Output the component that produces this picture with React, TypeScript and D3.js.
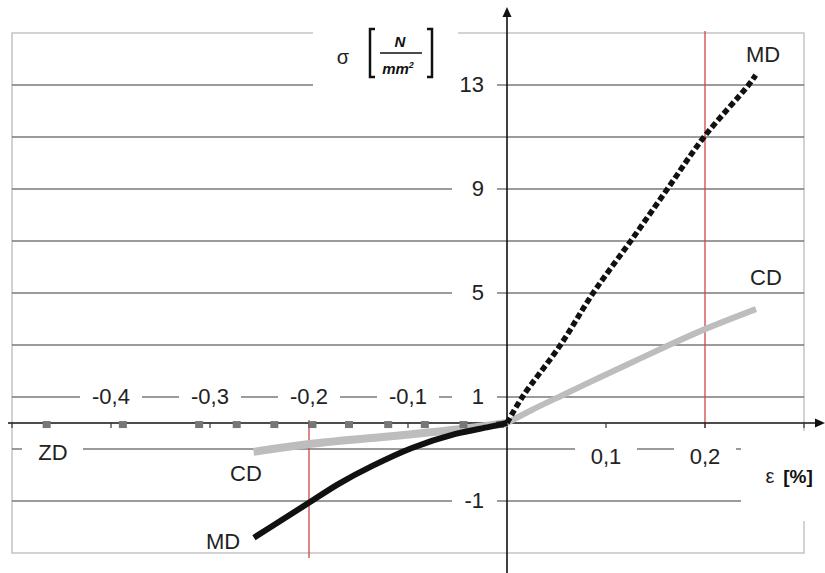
import React, { useRef, useEffect } from 'react';
import * as d3 from 'd3';

// strain [%] / stress [N/mm2]
const mdTensionX = [0, 0.0155, 0.054, 0.087, 0.125, 0.162, 0.199, 0.244, 0.2512];
const mdTensionY = [0, 1, 3, 5, 7, 9, 11, 13, 13.38];
const cdTensionX = [0, 0.025, 0.056, 0.093, 0.126, 0.16, 0.2, 0.2515];
const cdTensionY = [0, 0.5, 1.07, 1.74, 2.33, 2.93, 3.61, 4.38];
const mdCompX = [0, -0.018, -0.052, -0.096, -0.136, -0.17, -0.201, -0.237, -0.2556];
const mdCompY = [0, -0.05, -0.14, -0.32, -0.55, -0.78, -1.03, -1.32, -1.47];
const cdCompX = [0, -0.035, -0.102, -0.2, -0.256];
const cdCompY = [0, -0.06, -0.15, -0.27, -0.37];
const zdX = [-0.465, -0.388, -0.311, -0.273, -0.235, -0.1965, -0.1596, -0.12, -0.083, -0.044, -0.007];
const zdY = [-0.02, -0.02, -0.02, -0.02, -0.02, -0.02, -0.02, -0.02, -0.02, -0.02, -0.02];

const xTickValues = [-0.4, -0.3, -0.2, -0.1, 0.1, 0.2];
const xTickLabels = ['-0,4', '-0,3', '-0,2', '-0,1', '0,1', '0,2'];
const xTickMarks = [-0.5, -0.4, -0.3, -0.2, -0.1, 0.1, 0.2, 0.3];
const yTickValues = [13, 9, 5, 1, -1];
const yTickLabels = ['13', '9', '5', '1', '-1'];
const yGridValues = [13, 11, 9, 7, 5, 3, 1, -1 / 3, -1];
const refStrains = [-0.2, 0.2];

const FONT = 'Liberation Sans, Arial, sans-serif';

const App = () => {
    const svgRef = useRef(null);

    useEffect(() => {
        const svg = d3.select(svgRef.current);
        svg.selectAll('*').remove();

        const x = d3.scaleLinear().domain([-0.5, 0.3]).range([12, 804]);
        const y = d3.scaleLinear().domain([-5 / 3, 0, 15]).range([553, 423, 33]);
        const x0 = x(0), y0 = y(0);

        // frame
        svg.append('rect')
            .attr('x', x(-0.5)).attr('y', y(15))
            .attr('width', x(0.3) - x(-0.5)).attr('height', y(-5 / 3) - y(15))
            .attr('fill', 'none').attr('stroke', '#c4c4c4').attr('stroke-width', 1.5);

        // gridlines
        svg.append('g').selectAll('line')
            .data(yGridValues)
            .enter().append('line')
            .attr('x1', x(-0.5)).attr('x2', x(0.3))
            .attr('y1', d => y(d)).attr('y2', d => y(d))
            .attr('stroke', '#7a7a7a').attr('stroke-width', 1.5);

        // white label boxes over the grid
        const boxes = svg.append('g').attr('fill', 'white');
        boxes.append('rect').attr('x', 313).attr('y', 24).attr('width', 145).attr('height', 72);
        yTickValues.forEach(v => {
            boxes.append('rect').attr('x', 452).attr('y', y(v) - 11).attr('width', 45).attr('height', 22);
        });
        xTickValues.forEach(v => {
            const cy = v < 0 ? y(1) : y(-1 / 3) + 7;
            boxes.append('rect').attr('x', x(v) - 31).attr('y', cy - 11).attr('width', 62).attr('height', 22);
        });
        boxes.append('rect').attr('x', 22).attr('y', 440).attr('width', 61).attr('height', 22);
        boxes.append('rect').attr('x', 741).attr('y', 431).attr('width', 75).attr('height', 90);

        // reference strains
        svg.append('line')
            .attr('x1', x(refStrains[1])).attr('x2', x(refStrains[1]))
            .attr('y1', y(15) - 2).attr('y2', y0 + 5)
            .attr('stroke', '#d0454a').attr('stroke-width', 1.3);
        svg.append('line')
            .attr('x1', x(refStrains[0])).attr('x2', x(refStrains[0]))
            .attr('y1', y0 - 3).attr('y2', 558)
            .attr('stroke', '#d0454a').attr('stroke-width', 1.3);

        // axes
        svg.append('line')
            .attr('x1', 8).attr('x2', 816).attr('y1', y0).attr('y2', y0)
            .attr('stroke', '#111').attr('stroke-width', 1.6);
        svg.append('path')
            .attr('d', `M825,${y0} L815,${y0 - 4.5} L815,${y0 + 4.5} Z`).attr('fill', '#111');
        svg.append('line')
            .attr('x1', x0).attr('x2', x0).attr('y1', 16).attr('y2', 573)
            .attr('stroke', '#111').attr('stroke-width', 1.6);
        svg.append('path')
            .attr('d', `M${x0},7 L${x0 - 4.5},17 L${x0 + 4.5},17 Z`).attr('fill', '#111');
        svg.append('g').selectAll('line')
            .data(xTickMarks)
            .enter().append('line')
            .attr('x1', d => x(d)).attr('x2', d => x(d))
            .attr('y1', y0).attr('y2', y0 + 5)
            .attr('stroke', '#333').attr('stroke-width', 1.2);

        // series
        const line = d3.line().x(d => x(d[0])).y(d => y(d[1])).curve(d3.curveCatmullRom.alpha(0.5));
        const pairs = (xs, ys) => xs.map((v, i) => [v, ys[i]]);

        svg.append('path')
            .datum(pairs(cdCompX, cdCompY))
            .attr('d', line).attr('fill', 'none')
            .attr('stroke', '#bdbdbd').attr('stroke-width', 8);
        svg.append('path')
            .datum(pairs(cdTensionX, cdTensionY))
            .attr('d', line).attr('fill', 'none')
            .attr('stroke', '#bdbdbd').attr('stroke-width', 6);

        svg.append('g').selectAll('rect')
            .data(pairs(zdX, zdY))
            .enter().append('rect')
            .attr('x', d => x(d[0]) - 4).attr('y', d => y(d[1]) - 3.5)
            .attr('width', 8).attr('height', 7)
            .attr('fill', '#777');

        svg.append('path')
            .datum(pairs(mdCompX, mdCompY))
            .attr('d', line).attr('fill', 'none')
            .attr('stroke', '#111').attr('stroke-width', 6);
        svg.append('path')
            .datum(pairs(mdTensionX, mdTensionY))
            .attr('d', line).attr('fill', 'none')
            .attr('stroke', '#111').attr('stroke-width', 5.5)
            .attr('stroke-dasharray', '6,3');

        // tick labels
        const txt = svg.append('g')
            .attr('font-family', FONT).attr('font-size', 22).attr('fill', '#222');
        xTickValues.forEach((v, i) => {
            txt.append('text')
                .attr('x', x(v)).attr('y', v < 0 ? y(1) - 1 : y(-1 / 3) + 7)
                .attr('dy', '0.36em').attr('text-anchor', 'middle')
                .text(xTickLabels[i]);
        });
        yTickValues.forEach((v, i) => {
            txt.append('text')
                .attr('x', 484).attr('y', y(v) - 1)
                .attr('dy', '0.36em').attr('text-anchor', 'end')
                .text(yTickLabels[i]);
        });

        // series labels
        const seriesLabels = [
            ['MD', 763, 54], ['CD', 766, 277], ['CD', 246, 473], ['MD', 223, 541], ['ZD', 53, 452]
        ];
        seriesLabels.forEach(([t, lx, ly]) => {
            txt.append('text').attr('x', lx).attr('y', ly)
                .attr('dy', '0.36em').attr('text-anchor', 'middle').text(t);
        });

        // axis titles
        txt.append('text').attr('x', 343).attr('y', 57).attr('dy', '0.36em')
            .attr('text-anchor', 'middle').attr('font-size', 20).text('σ');
        const unit = svg.append('g').attr('font-family', FONT).attr('fill', '#111');
        unit.append('path').attr('d', 'M375,29 L370,29 L370,77 L375,77')
            .attr('fill', 'none').attr('stroke', '#111').attr('stroke-width', 2.5);
        unit.append('path').attr('d', 'M427,29 L432,29 L432,77 L427,77')
            .attr('fill', 'none').attr('stroke', '#111').attr('stroke-width', 2.5);
        unit.append('text').attr('x', 400).attr('y', 47).attr('text-anchor', 'middle')
            .attr('font-size', 15).attr('font-weight', 'bold').attr('font-style', 'italic').text('N');
        unit.append('line').attr('x1', 380).attr('x2', 422).attr('y1', 53).attr('y2', 53)
            .attr('stroke', '#111').attr('stroke-width', 1.6);
        const mm = unit.append('text').attr('x', 398).attr('y', 74).attr('text-anchor', 'middle')
            .attr('font-size', 15).attr('font-weight', 'bold').attr('font-style', 'italic');
        mm.append('tspan').text('mm');
        mm.append('tspan').attr('font-size', 9).attr('dy', -6).text('2');

        txt.append('text').attr('x', 770).attr('y', 476).attr('dy', '0.36em')
            .attr('text-anchor', 'middle').attr('font-size', 20).text('ε');
        txt.append('text').attr('x', 798).attr('y', 476).attr('dy', '0.36em')
            .attr('text-anchor', 'middle').attr('font-size', 19).attr('font-weight', 'bold')
            .attr('fill', '#111').text('[%]');
    }, []);

    return (
        <svg ref={svgRef} width={825} height={573}
            style={{ position: 'absolute', left: 0, top: 0, background: 'white' }}></svg>
    );
};

export default App;
